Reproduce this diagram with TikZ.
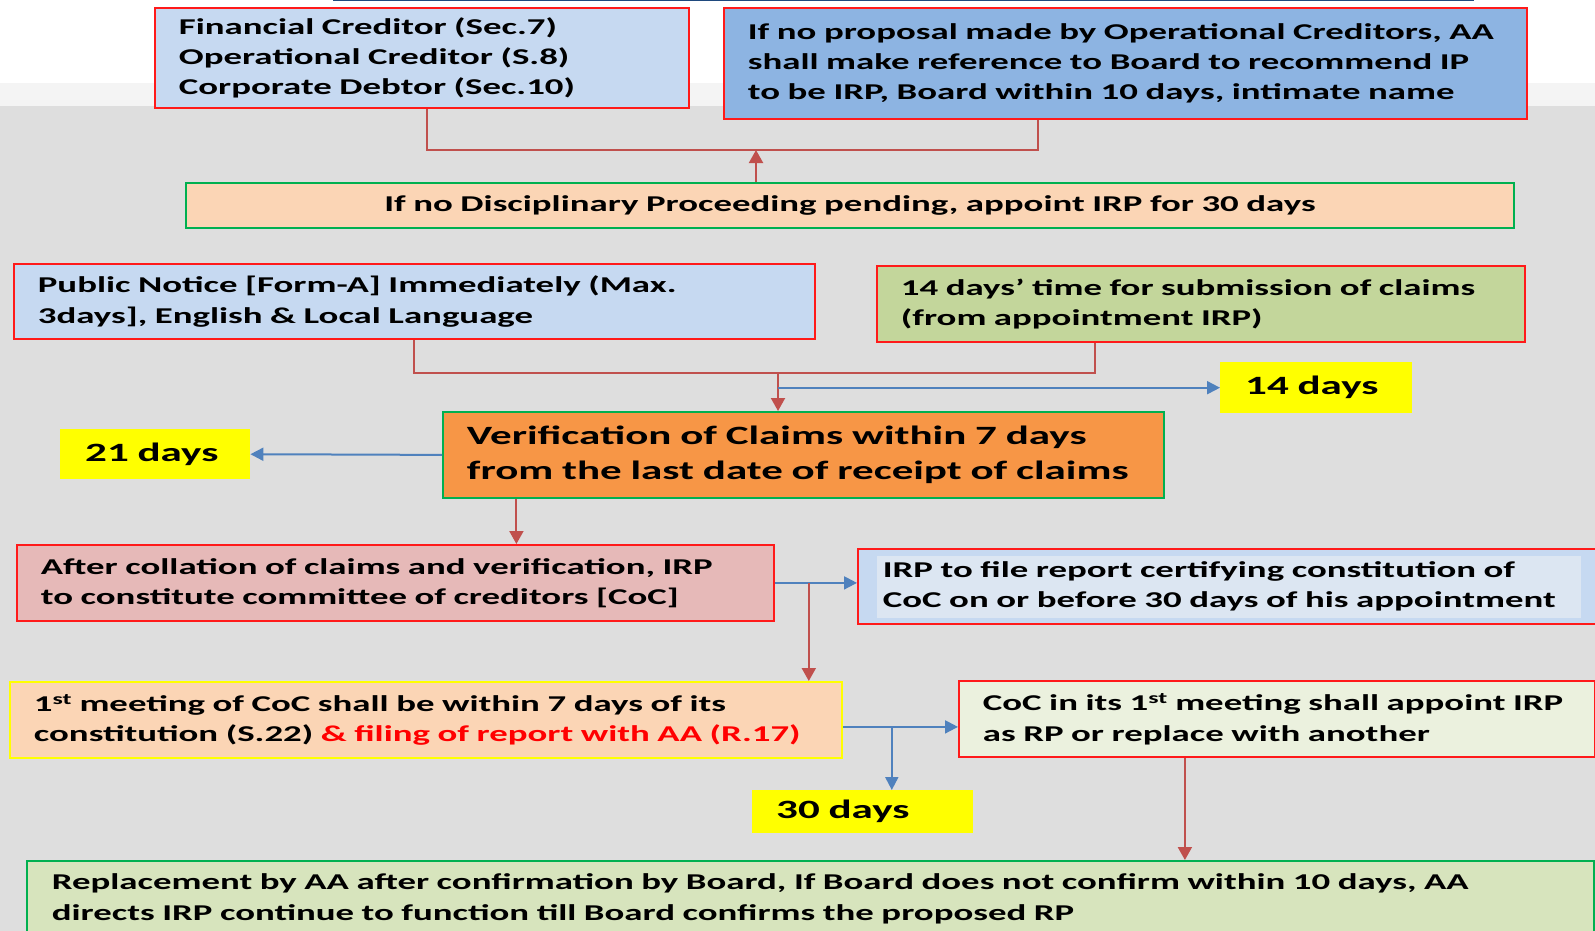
\documentclass[tikz,border=0pt]{standalone}
\usepackage{fontspec}
\setmainfont{Carlito}[FakeStretch=1.63]
\usetikzlibrary{arrows.meta,positioning}
\definecolor{lineRed}{HTML}{C0504D}
\definecolor{lineBlue}{HTML}{4F81BD}
\definecolor{boxRed}{HTML}{FF1A1A}
\definecolor{boxGreen}{HTML}{00B050}
\definecolor{boxYellow}{HTML}{FFFF00}
\definecolor{topBlue}{HTML}{1F497D}
\definecolor{paleBlue}{HTML}{C6D9F1}
\definecolor{midBlue}{HTML}{8DB4E2}
\definecolor{innerBlue}{HTML}{DCE6F2}
\definecolor{peach}{HTML}{FBD5B5}
\definecolor{olive}{HTML}{C3D69B}
\definecolor{orange}{HTML}{F79646}
\definecolor{rose}{HTML}{E6B9B8}
\definecolor{paleGreen}{HTML}{EBF1DE}
\definecolor{sage}{HTML}{D7E4BD}
\definecolor{bgGray}{HTML}{DEDEDE}
\definecolor{bgLight}{HTML}{F4F4F4}
\newcommand\txtfont{\fontsize{22.6}{30.3}\selectfont\bfseries}
\newcommand\bigtxt{\fontsize{26.4}{35}\selectfont\bfseries}
\tikzset{
  box/.style={draw=boxRed, line width=1.8pt, inner xsep=24pt, inner ysep=0pt, align=left, font=\txtfont, anchor=north west},
  daybox/.style={fill=boxYellow, inner xsep=25pt, inner ysep=0pt, align=left, font=\bigtxt, anchor=north west},
  redline/.style={draw=lineRed, line width=2pt},
  redarrow/.style={redline, -{Triangle[length=13pt,width=14pt]}},
  bluearrow/.style={draw=lineBlue, line width=2pt, -{Triangle[length=13pt,width=13pt]}}
}
\begin{document}
\begin{tikzpicture}[x=1pt,y=-1pt]
\useasboundingbox (0,0) rectangle (1595,931);
\fill[white] (0,0) rectangle (1595,83);
\fill[bgLight] (0,83) rectangle (1595,106);
\fill[bgGray] (0,106) rectangle (1595,931);
\draw[topBlue, line width=2pt] (333,0.5) -- (1474,0.5);
\node[box, fill=paleBlue, minimum width=534pt, text width=486pt, minimum height=100pt] (cred) at (154,7) {Financial Creditor (Sec.7)\\Operational Creditor (S.8)\\Corporate Debtor (Sec.10)};
\node[box, fill=midBlue, minimum width=803pt, text width=755pt, minimum height=111pt] (prop) at (723,7) {If no proposal made by Operational Creditors, AA\\shall make reference to Board to recommend IP\\to be IRP, Board within 10 days, intimate name};
\node[box, draw=boxGreen, fill=peach, minimum width=1328pt, text width=1280pt, minimum height=45pt, align=center] (irp) at (185,182) {If no Disciplinary Proceeding pending, appoint IRP for 30 days};
\node[box, fill=paleBlue, minimum width=801pt, text width=753pt, minimum height=75pt] (notice) at (13,263) {Public Notice [Form-A] Immediately (Max.\\3days], English \& Local Language};
\node[box, fill=olive, minimum width=648pt, text width=600pt, minimum height=76pt] (claims) at (876,265) {14 days’ time for submission of claims\\(from appointment IRP)};
\node[box, draw=boxGreen, fill=orange, minimum width=721pt, text width=673pt, minimum height=86pt, font=\bigtxt] (verify) at (442,411) {Verification of Claims within 7 days\\from the last date of receipt of claims};
\node[daybox, minimum width=192pt, text width=142pt, minimum height=51pt] (d14) at (1220,362) {14 days};
\node[daybox, minimum width=190pt, text width=140pt, minimum height=50pt, inner xsep=24pt] (d21) at (60,429) {21 days};
\node[box, fill=rose, minimum width=757pt, text width=709pt, minimum height=76pt] (coc) at (16,544) {After collation of claims and verification, IRP\\to constitute committee of creditors [CoC]};
\node[box, fill=paleBlue, minimum width=745pt, text width=695pt, minimum height=75pt, inner xsep=25pt, path picture={\fill[innerBlue] ([xshift=19pt,yshift=-7pt]path picture bounding box.north west) rectangle ([xshift=-22pt,yshift=6pt]path picture bounding box.south east);}] (report) at (857,548) {IRP to file report certifying constitution of\\CoC on or before 30 days of his appointment};
\node[box, draw=boxYellow, fill=peach, minimum width=832pt, text width=784pt, minimum height=76pt] (meet) at (9,681) {1\textsuperscript{st} meeting of CoC shall be within 7 days of its\\constitution (S.22) {\color{red}\& filing of report with AA (R.17)}};
\node[box, fill=paleGreen, minimum width=636pt, text width=588pt, minimum height=76pt] (appoint) at (958,680) {CoC in its 1\textsuperscript{st} meeting shall appoint IRP\\as RP or replace with another};
\node[daybox, minimum width=221pt, text width=173pt, minimum height=43pt, inner xsep=24pt] (d30) at (752,790) {30 days};
\node[box, draw=boxGreen, fill=sage, minimum width=1567pt, text width=1517pt, minimum height=76pt, inner xsep=25pt] (repl) at (26,860) {Replacement by AA after confirmation by Board, If Board does not confirm within 10 days, AA\\directs IRP continue to function till Board confirms the proposed RP};
\coordinate (up) at (756,150);
\draw[redline] ([xshift=5pt]cred.south) |- (up) -| ([xshift=-87pt]prop.south);
\draw[redarrow] (irp.north -| up) -- (up);
\coordinate (jn) at (778,373);
\draw[redline] (notice.south) |- (jn) -| ([xshift=-106pt]claims.south);
\draw[redarrow] (jn) -- (jn |- verify.north);
\draw[bluearrow] (jn |- d14.west) -- (d14.west);
\draw[bluearrow] (verify.west) -- (d21.east);
\draw[redarrow] ([xshift=-287pt]verify.south) -- ([xshift=-287pt]verify.south |- coc.north);
\draw[bluearrow] (coc.east) -- (coc.east -| report.west);
\draw[redarrow] ([xshift=34pt]coc.east) -- ([xshift=34pt]coc.east |- meet.north);
\draw[bluearrow] ([yshift=-7pt]meet.east) -- ([yshift=-7pt]meet.east -| appoint.west);
\coordinate (br) at ([xshift=49pt,yshift=-7pt]meet.east);
\draw[bluearrow] (br) -- (br |- d30.north);
\draw[redarrow] ([xshift=-92pt]appoint.south) -- ([xshift=-92pt]appoint.south |- repl.north);
\end{tikzpicture}
\end{document}
